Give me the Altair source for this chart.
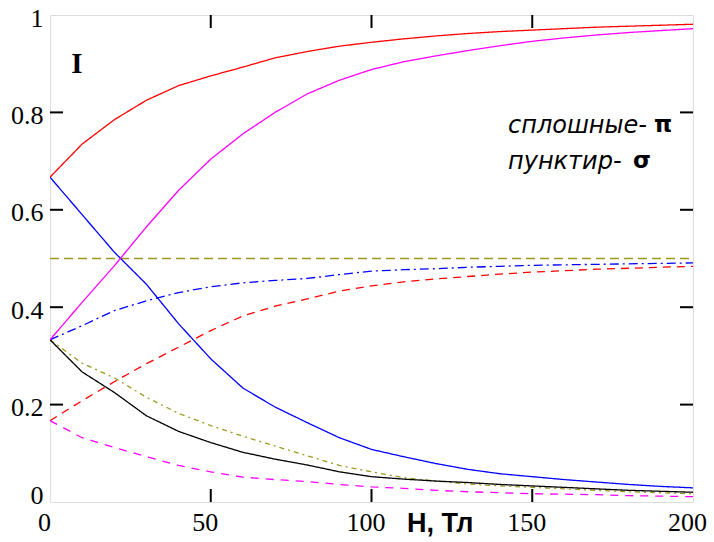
import altair as alt
import pandas as pd

H = [0, 10, 20, 30, 40, 50, 60, 70, 80, 90, 100, 110, 120, 130, 140, 150, 160, 170, 180, 190, 200]

red_solid = [0.667, 0.735, 0.785, 0.825, 0.855, 0.875, 0.893, 0.912, 0.925, 0.936, 0.944, 0.951, 0.957, 0.962, 0.966, 0.969, 0.972, 0.975, 0.977, 0.979, 0.981]
magenta_solid = [0.333, 0.41, 0.485, 0.565, 0.64, 0.704, 0.756, 0.80, 0.838, 0.866, 0.888, 0.904, 0.916, 0.927, 0.937, 0.946, 0.953, 0.959, 0.964, 0.968, 0.972]
blue_solid = [0.667, 0.59, 0.513, 0.447, 0.366, 0.294, 0.234, 0.195, 0.163, 0.132, 0.108, 0.093, 0.079, 0.067, 0.058, 0.052, 0.046, 0.041, 0.036, 0.032, 0.029]
black_solid = [0.333, 0.267, 0.225, 0.177, 0.145, 0.122, 0.102, 0.088, 0.076, 0.062, 0.052, 0.047, 0.043, 0.040, 0.036, 0.033, 0.030, 0.027, 0.024, 0.022, 0.020]
olive_dashdot = [0.333, 0.285, 0.255, 0.215, 0.182, 0.157, 0.135, 0.115, 0.095, 0.075, 0.062, 0.050, 0.043, 0.037, 0.033, 0.030, 0.027, 0.024, 0.021, 0.019, 0.017]
blue_dashdot = [0.333, 0.362, 0.393, 0.413, 0.430, 0.442, 0.450, 0.455, 0.459, 0.467, 0.474, 0.477, 0.479, 0.482, 0.484, 0.486, 0.487, 0.488, 0.489, 0.490, 0.491]
red_dashed = [0.167, 0.208, 0.247, 0.284, 0.318, 0.352, 0.382, 0.402, 0.417, 0.433, 0.444, 0.452, 0.458, 0.463, 0.468, 0.472, 0.475, 0.478, 0.480, 0.482, 0.484]
magenta_dashed = [0.167, 0.132, 0.112, 0.093, 0.075, 0.062, 0.051, 0.046, 0.042, 0.036, 0.031, 0.028, 0.024, 0.021, 0.019, 0.017, 0.016, 0.015, 0.013, 0.012, 0.011]
olive_dashed = [0.5] * len(H)

x_ticks = [50, 100, 150]
y_ticks = [0.2, 0.4, 0.6, 0.8]

series = {
    "red_dashed": red_dashed,
    "magenta_dashed": magenta_dashed,
    "olive_dashed": olive_dashed,
    "blue_dashdot": blue_dashdot,
    "olive_dashdot": olive_dashdot,
    "black_solid": black_solid,
    "blue_solid": blue_solid,
    "magenta_solid": magenta_solid,
    "red_solid": red_solid,
}
colors = {
    "red_dashed": "#ff0000",
    "magenta_dashed": "#ff00ff",
    "olive_dashed": "#9a9a20",
    "blue_dashdot": "#0000ff",
    "olive_dashdot": "#9a9a20",
    "black_solid": "#000000",
    "blue_solid": "#0000ff",
    "magenta_solid": "#ff00ff",
    "red_solid": "#ff0000",
}
dashes = {
    "red_dashed": [8, 6],
    "magenta_dashed": [8, 7],
    "olive_dashed": [9, 5],
    "blue_dashdot": [9, 4, 2, 4],
    "olive_dashdot": [5, 4, 2, 4],
    "black_solid": [1, 0],
    "blue_solid": [1, 0],
    "magenta_solid": [1, 0],
    "red_solid": [1, 0],
}

rows = []
for name, vals in series.items():
    for h, v in zip(H, vals):
        rows.append({"H": h, "I": v, "s": name})
df = pd.DataFrame(rows)
names = list(series.keys())

W, HT = 643, 487

xs = alt.Scale(domain=[0, 200], nice=False, zero=False)
ys = alt.Scale(domain=[0, 1], nice=False)

lines = alt.Chart(df).mark_line(strokeWidth=1.3, clip=True).encode(
    x=alt.X("H:Q", scale=xs, axis=alt.Axis(values=[0, 50, 100, 150, 200], title=None, ticks=False, tickSize=0,
                                            domain=False, grid=False, labelFont="Liberation Serif", labelFontSize=26,
                                            labelColor="black", labelPadding=7, labelOffset=-6, labelFlush=False)),
    y=alt.Y("I:Q", scale=ys, axis=alt.Axis(values=[0, 0.2, 0.4, 0.6, 0.8, 1], format=".1~f", title=None,
                                            ticks=False, tickSize=0, domain=False, grid=False,
                                            labelFont="Liberation Serif", labelFontSize=26, labelColor="black",
                                            labelPadding=7,
                                            labelOffset={"condition": {"test": "datum.value == 0", "value": -7}, "value": 3},
                                            labelFlush=False)),
    color=alt.Color("s:N", scale=alt.Scale(domain=names, range=[colors[n] for n in names]), legend=None),
    strokeDash=alt.StrokeDash("s:N", scale=alt.Scale(domain=names, range=[dashes[n] for n in names]), legend=None),
    detail="s:N",
)

ydf = pd.DataFrame({"v": y_ticks})
xdf = pd.DataFrame({"v": x_ticks})
tl = alt.Chart(ydf).mark_rule(color="black", strokeWidth=2).encode(y=alt.Y("v:Q", scale=ys), x=alt.value(0), x2=alt.value(13))
tr = alt.Chart(ydf).mark_rule(color="black", strokeWidth=2).encode(y=alt.Y("v:Q", scale=ys), x=alt.value(W - 13), x2=alt.value(W))
tb = alt.Chart(xdf).mark_rule(color="black", strokeWidth=2).encode(x=alt.X("v:Q", scale=xs), y=alt.value(HT - 13), y2=alt.value(HT))
tt = alt.Chart(xdf).mark_rule(color="black", strokeWidth=2).encode(x=alt.X("v:Q", scale=xs), y=alt.value(0), y2=alt.value(13))

def label(text, x, y, font, size, weight="normal", style="normal", align="left"):
    return alt.Chart(pd.DataFrame({"t": [text]})).mark_text(
        font=font, fontSize=size, fontWeight=weight, fontStyle=style, align=align, baseline="middle", color="black"
    ).encode(text="t:N", x=alt.value(x), y=alt.value(y))

texts = [
    label("I", 27, 49, "Liberation Serif", 29, weight="bold", align="center"),
    label("сплошные-", 458, 111, "DejaVu Sans", 24, style="italic"),
    label("π", 604, 110, "DejaVu Sans", 23, weight="bold"),
    label("пунктир-", 458, 147, "DejaVu Sans", 24, style="italic"),
    label("σ", 583, 146, "DejaVu Sans", 23, weight="bold"),
    label("H, Тл", 357, 509, "Liberation Sans", 27, weight="bold"),
]

chart = alt.layer(lines, tl, tr, tb, tt, *texts).properties(
    width=W, height=HT,
    autosize=alt.AutoSizeParams(type="none"),
    padding={"left": 50, "top": 15, "right": 21, "bottom": 40},
).configure_view(stroke="black", strokeWidth=2).configure(background="white")

chart.save("out.html", embed_options={"renderer": "svg", "actions": False})
